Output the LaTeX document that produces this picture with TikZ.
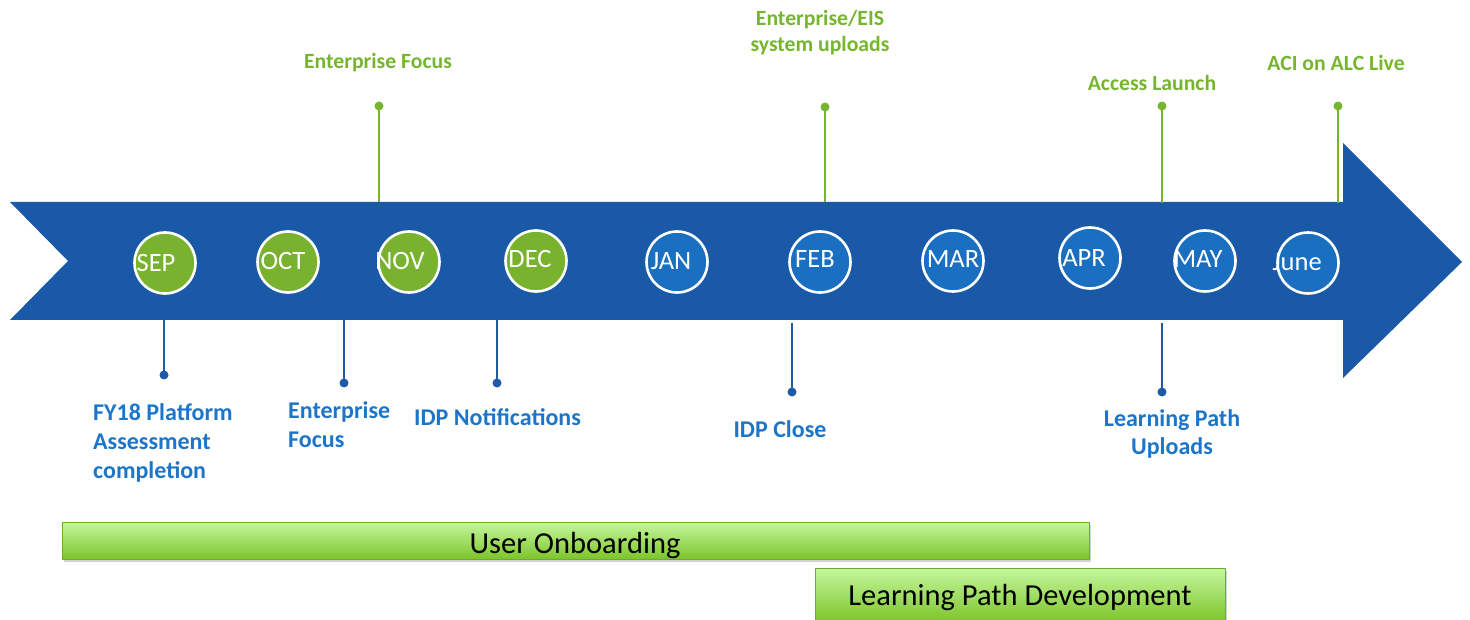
\documentclass[tikz,border=0pt]{standalone}
\usepackage{fontspec}
\setmainfont{Carlito}
\usetikzlibrary{shadows}
\definecolor{arrowblue}{HTML}{1A58A8}
\definecolor{circgreen}{HTML}{78B22E}
\definecolor{circblue}{HTML}{1A6FC0}
\definecolor{txtgreen}{HTML}{76B52E}
\definecolor{txtblue}{HTML}{1C75C8}
\definecolor{lineblue}{HTML}{1F5AA6}
\definecolor{bartop}{HTML}{C4F79C}
\definecolor{barbot}{HTML}{7CC42A}
\definecolor{barline}{HTML}{6AAE2A}
\tikzset{
  month/.style={circle, draw=white, line width=2.6pt, minimum size=61pt, inner sep=0pt},
  gmonth/.style={month, fill=circgreen},
  bmonth/.style={month, fill=circblue},
  mtext/.style={text=white, font=\fontsize{26.5}{30}\selectfont, inner sep=0pt, anchor=center},
  glabel/.style={text=txtgreen, font=\bfseries\fontsize{21.7}{26}\selectfont, align=center, inner sep=0pt},
  blabel/.style={text=txtblue, font=\bfseries\fontsize{24}{29}\selectfont, inner sep=0pt},
  gline/.style={draw=txtgreen, line width=1.6pt},
  bline/.style={draw=lineblue, line width=1.6pt},
  gdot/.style={circle, fill=txtgreen, minimum size=9pt, inner sep=0pt},
  bdot/.style={circle, fill=lineblue, minimum size=9pt, inner sep=0pt},
  bar/.style={draw=barline, line width=0.8pt, top color=bartop, bottom color=barbot,
    drop shadow={shadow xshift=1.5pt, shadow yshift=-2.5pt, opacity=0.35},
    inner sep=0pt},
  bartext/.style={font=\fontsize{30.5}{34}\selectfont, text=black, inner sep=0pt}
}
\begin{document}
\begin{tikzpicture}[x=1pt, y=-1pt]
\useasboundingbox (0,0) rectangle (1470,620);
% arrow
\fill[arrowblue] (10,202) -- (1343,202) -- (1343,143) -- (1462,262) -- (1343,378)
  -- (1343,320) -- (10,320) -- (68,261) -- cycle;
% months
\node[gmonth] (sep) at (165,263) {};
\node[gmonth] (oct) at (288,262) {};
\node[gmonth] (nov) at (409,262) {};
\node[gmonth] (dec) at (536,261) {};
\node[bmonth] (jan) at (677,262) {};
\node[bmonth] (feb) at (820,262) {};
\node[bmonth] (mar) at (953,261) {};
\node[bmonth] (apr) at (1090,258) {};
\node[bmonth] (may) at (1205,261) {};
\node[bmonth] (jun) at (1308,263) {};
\node[mtext] (tsep) at (156,263) {SEP};
\node[mtext] (toct) at (283,261) {OCT};
\node[mtext] (tnov) at (400,261) {NOV};
\node[mtext] (tdec) at (530,259) {DEC};
\node[mtext] (tjan) at (671,261) {JAN};
\node[mtext] (tfeb) at (815,259) {FEB};
\node[mtext] (tmar) at (953,259) {MAR};
\node[mtext] (tapr) at (1084,258) {APR};
\node[mtext] (tmay) at (1198,259) {MAY};
\node[mtext] (tjun) at (1297,262) {June};
% top connectors
\node[gdot] (dnov) at (379,106) {};
\node[gdot] (dfeb) at (825,107) {};
\node[gdot] (dmay) at (1162,106) {};
\node[gdot] (djun) at (1338,106) {};
\coordinate (enov) at (379,202);
\coordinate (efeb) at (825,202);
\coordinate (emay) at (1162,203);
\coordinate (ejun) at (1338,203);
\draw[gline] (dnov.center) -- (enov);
\draw[gline] (dfeb.center) -- (efeb);
\draw[gline] (dmay.center) -- (emay);
\draw[gline] (djun.center) -- (ejun);
\node[glabel] (lnov) at (378,63) {Enterprise Focus};
\node[glabel] (lfeb) at (820,33) {Enterprise/EIS\\system uploads};
\node[glabel] (lmay) at (1152,83) {Access Launch};
\node[glabel] (ljun) at (1336,63) {ACI on ALC Live};
% bottom connectors
\coordinate (esep) at (164,320);
\coordinate (eoct) at (344,320);
\coordinate (edec) at (497,320);
\coordinate (efeb2) at (792,323);
\coordinate (emay2) at (1162,323);
\node[bdot] (dsep) at (164,375) {};
\node[bdot] (doct) at (344,383) {};
\node[bdot] (ddec) at (497,383) {};
\node[bdot] (dfeb2) at (792,392) {};
\node[bdot] (dmay2) at (1162,392) {};
\draw[bline] (esep) -- (dsep.center);
\draw[bline] (eoct) -- (doct.center);
\draw[bline] (edec) -- (ddec.center);
\draw[bline] (efeb2) -- (dfeb2.center);
\draw[bline] (emay2) -- (dmay2.center);
\node[blabel, align=left, anchor=north west] (lsep) at (93,403) {FY18 Platform\\Assessment\\completion};
\node[blabel, align=left, anchor=north west] (loct) at (288,401) {Enterprise\\Focus};
\node[blabel, anchor=west] (ldec) at (414,417) {IDP Notifications};
\node[blabel] (lfeb2) at (780,429) {IDP Close};
\node[blabel, align=center, font=\bfseries\fontsize{24}{28}\selectfont] (lmay2) at (1172,434) {Learning Path\\Uploads};
% bars
\node[bar, minimum width=1027pt, minimum height=37pt, anchor=north west] (onb) at (62,522) {};
\node[bartext] (tonb) at (575,546) {User Onboarding};
\node[bar, minimum width=410pt, minimum height=54pt, anchor=north west] (lpd) at (815,568) {};
\node[bartext] (tlpd) at (1020,598) {Learning Path Development};
\end{tikzpicture}
\end{document}
